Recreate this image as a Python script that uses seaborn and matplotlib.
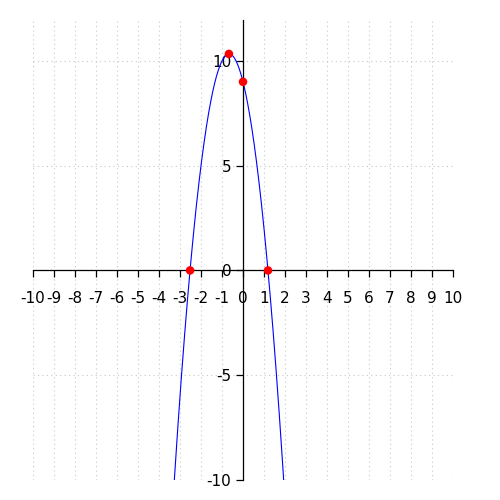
import numpy as np
import pandas as pd
import matplotlib
matplotlib.use("Agg")
import matplotlib.pyplot as plt
import seaborn as sns

# Parabola y = a*x^2 + b*x + c
coeffs = [-3, -4, 9]
# curve is drawn where it stays inside the y window
x_start, x_end = -3.27, 1.94
# marked points: left root, vertex, y-intercept, right root
point_x = [-2.52, -0.67, 0.0, 1.19]
point_y = [0.0, 10.33, 9.0, 0.0]

x_ticks = list(range(-10, 11))
y_ticks = [-10, -5, 0, 5, 10]

sns.set_style("white")
plt.rcParams['font.family'] = ['DejaVu Sans']
plt.rcParams['axes.unicode_minus'] = False

xs = np.linspace(x_start, x_end, 400)
curve = pd.DataFrame({'x': xs, 'y': np.polyval(coeffs, xs)})
pts = pd.DataFrame({'x': point_x, 'y': point_y})

fig = plt.figure(figsize=(5, 5), dpi=100)
ax = fig.add_axes([0.066, 0.04, 0.84, 0.92])

# dotted grid
for gx in x_ticks:
    ax.axvline(gx, color='#c8c8c8', linestyle=(0, (1, 3)), linewidth=0.8, zorder=0)
for gy in y_ticks:
    ax.axhline(gy, color='#c8c8c8', linestyle=(0, (1, 3)), linewidth=0.8, zorder=0)

sns.lineplot(data=curve, x='x', y='y', color='blue', linewidth=0.8, ax=ax, zorder=2)
sns.scatterplot(data=pts, x='x', y='y', color='red', s=38, edgecolor='none', ax=ax, zorder=3)

ax.set_xlim(-10, 10)
ax.set_ylim(-10, 11.95)
ax.spines['left'].set_position(('data', 0))
ax.spines['bottom'].set_position(('data', 0))
ax.spines['top'].set_visible(False)
ax.spines['right'].set_visible(False)
for s in ['left', 'bottom']:
    ax.spines[s].set_color('black')
    ax.spines[s].set_linewidth(0.9)

ax.set_xticks(x_ticks)
ax.set_xticklabels([str(t) for t in x_ticks])
ax.set_yticks(y_ticks)
ax.set_yticklabels([str(t) for t in y_ticks])
ax.tick_params(axis='x', direction='out', length=5, width=0.9, pad=9.5, labelsize=11,
               bottom=True, color='black', labelcolor='black')
ax.tick_params(axis='y', direction='out', length=5, width=0.9, pad=3.5, labelsize=11,
               left=True, color='black', labelcolor='black')
ax.set_xlabel('')
ax.set_ylabel('')

fig.savefig('out.png', dpi=100)
